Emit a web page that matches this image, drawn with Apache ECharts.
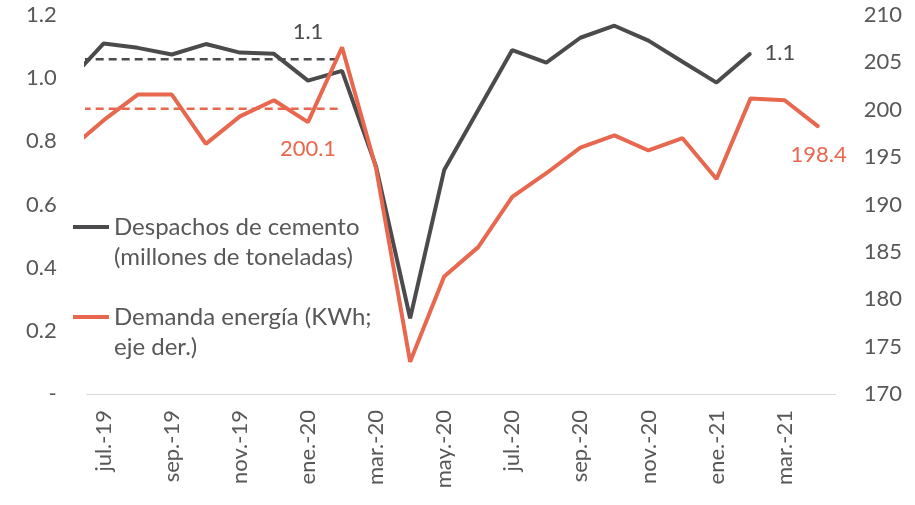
<!DOCTYPE html>
<html><head><meta charset="utf-8">
<script src="https://cdn.jsdelivr.net/npm/echarts@6/dist/echarts.min.js"></script>
<style>html,body{margin:0;padding:0;background:#fff}#c{width:915px;height:505px}</style>
</head><body><div id="c"></div>
<script>
// jun.-19 .. abr.-21 (jun.-19 lies just outside the plotted window)
const months = ['jun.-19','jul.-19','ago.-19','sep.-19','oct.-19','nov.-19','dic.-19','ene.-20','feb.-20','mar.-20','abr.-20','may.-20','jun.-20','jul.-20','ago.-20','sep.-20','oct.-20','nov.-20','dic.-20','ene.-21','feb.-21','mar.-21','abr.-21'];
const cemento = [0.994,1.110,1.096,1.075,1.108,1.081,1.077,0.992,1.023,0.720,0.240,0.709,0.899,1.089,1.049,1.128,1.166,1.119,1.052,0.986,1.079];
const energia = [195.8,198.9,201.6,201.6,196.4,199.3,201.0,198.7,206.6,193.8,173.4,182.4,185.5,190.8,193.3,196.0,197.3,195.7,197.0,192.7,201.2,201.0,198.2];
const cementoProm = 1.06, cementoPromLabel = '1.1';
const energiaProm = 200.1, energiaPromLabel = '200.1';
const cementoLastLabel = '1.1', energiaLastLabel = '198.4';
const promEndIndex = 8;   // feb.-20
const promLabelIndex = 7; // ene.-20
const leftTicks = {min:0, max:1.2, interval:0.2};
const rightTicks = {min:170, max:210, interval:5};
const nameCem = 'Despachos de cemento\n(millones de toneladas)';
const nameEne = 'Demanda energía (KWh;\neje der.)';

const GRAY = '#4B4B4D', ORANGE = '#E8674F', TXT = '#58585A', FONT = 'Lato';
const chart = echarts.init(document.getElementById('c'), null, {renderer:'canvas'});

function lineData(vals, labelIdx, labelCfg, textFn, color) {
  return vals.map((v,i) => {
    const d = {value:[i, v]};
    if (i === labelIdx) {
      d.symbol = 'circle'; d.symbolSize = 2; d.itemStyle = {color:color};
      d.label = Object.assign({show:true, formatter: textFn}, labelCfg);
    }
    return d;
  });
}
const promIdx = months.slice(0, promEndIndex + 1).map((m,i)=>i);

chart.setOption({
  animation:false,
  textStyle:{fontFamily:FONT},
  grid:{left:86.7, right:79.3, top:15, bottom:111, containLabel:false},
  legend:{
    data:[nameCem, nameEne], orient:'vertical', left:73, top:182, padding:0, itemGap:0,
    icon:'rect', itemWidth:36, itemHeight:4, selectedMode:false,
    formatter: n => '\n' + n,
    textStyle:{fontFamily:FONT, fontSize:24, color:TXT, lineHeight:30}
  },
  xAxis:[
    {type:'category', data:months.slice(1), boundaryGap:true,
     axisLine:{lineStyle:{color:'#D9D9D9', width:1}},
     axisTick:{interval:1, length:7, lineStyle:{color:'#D9D9D9'}},
     axisLabel:{interval:1, rotate:90, margin:16, fontSize:22, color:TXT, fontFamily:FONT}},
    {type:'value', min:0.5, max:22.5, show:false}
  ],
  yAxis:[
    {type:'value', min:leftTicks.min, max:leftTicks.max, interval:leftTicks.interval,
     axisLine:{show:false}, axisTick:{show:false}, splitLine:{show:false},
     axisLabel:{margin:30, fontSize:22, color:TXT, fontFamily:FONT,
       formatter:v => Math.abs(v) < 1e-9 ? '-' : v.toFixed(1)}},
    {type:'value', min:rightTicks.min, max:rightTicks.max, interval:rightTicks.interval, position:'right',
     axisLine:{show:false}, axisTick:{show:false}, splitLine:{show:false},
     axisLabel:{margin:28, fontSize:22, color:TXT, fontFamily:FONT}}
  ],
  series:[
    {name:'promCem', type:'line', xAxisIndex:1, yAxisIndex:0, symbol:'none', silent:true,
     lineStyle:{color:GRAY, width:2.5, type:[8,5]}, itemStyle:{color:GRAY},
     data: lineData(promIdx.map(()=>cementoProm), promLabelIndex,
       {position:'top', distance:15, color:GRAY, fontSize:22, fontFamily:FONT}, ()=>cementoPromLabel, GRAY)},
    {name:'promEne', type:'line', xAxisIndex:1, yAxisIndex:1, symbol:'none', silent:true,
     lineStyle:{color:ORANGE, width:2.5, type:[8,5]}, itemStyle:{color:ORANGE},
     data: lineData(promIdx.map(()=>energiaProm), promLabelIndex,
       {position:'bottom', distance:28, color:ORANGE, fontSize:22, fontFamily:FONT}, ()=>energiaPromLabel, ORANGE)},
    {name:nameCem, type:'line', xAxisIndex:1, yAxisIndex:0, symbol:'none',
     lineStyle:{color:GRAY, width:4}, itemStyle:{color:GRAY},
     data: lineData(cemento, cemento.length-1,
       {position:'right', distance:13, color:GRAY, fontSize:22, fontFamily:FONT}, ()=>cementoLastLabel, GRAY)},
    {name:nameEne, type:'line', xAxisIndex:1, yAxisIndex:1, symbol:'none',
     lineStyle:{color:ORANGE, width:4}, itemStyle:{color:ORANGE},
     data: lineData(energia, energia.length-1,
       {position:'bottom', distance:16, color:ORANGE, fontSize:22, fontFamily:FONT}, ()=>energiaLastLabel, ORANGE)}
  ]
});
</script></body></html>
